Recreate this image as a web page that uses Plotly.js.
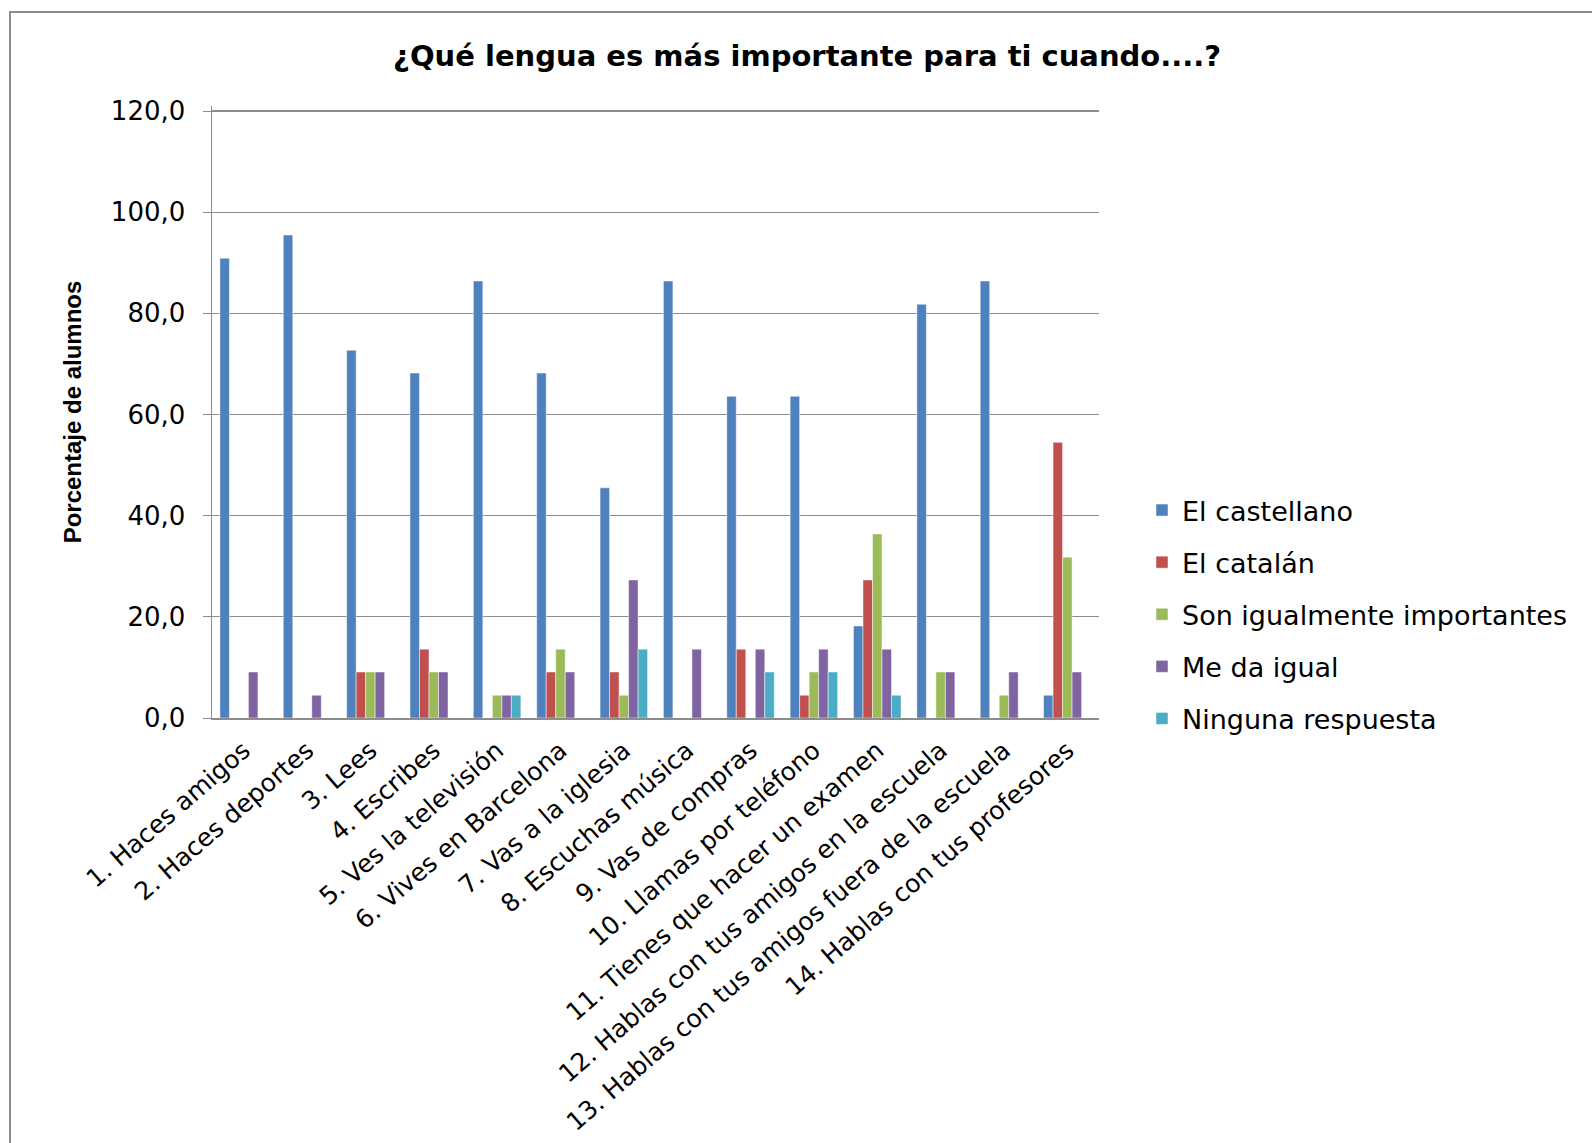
<!DOCTYPE html>
<html>
<head>
<meta charset="utf-8">
<script src="https://cdn.plot.ly/plotly-3.0.1.min.js"></script>
<style>
  html, body { margin: 0; padding: 0; background: #ffffff; }
  #chart { width: 1592px; height: 1143px; }
  #frame { position: absolute; left: 9px; top: 11px; width: 1600px; height: 1200px;
           border-left: 2px solid #8c8c8c; border-top: 2px solid #8c8c8c; pointer-events: none; }
</style>
</head>
<body>
<div id="chart"></div>
<div id="frame"></div>
<script>
const categories = [
  "1. Haces amigos",
  "2. Haces deportes",
  "3. Lees",
  "4. Escribes",
  "5. Ves la televisión",
  "6. Vives en Barcelona",
  "7. Vas a la iglesia",
  "8. Escuchas música",
  "9. Vas de compras",
  "10. Llamas por teléfono",
  "11. Tienes que hacer un examen",
  "12. Hablas con tus amigos en la escuela",
  "13. Hablas con tus amigos fuera de la escuela",
  "14. Hablas con tus profesores"
];

const castellano   = [90.9, 95.5, 72.7, 68.2, 86.4, 68.2, 45.5, 86.4, 63.6, 63.6, 18.2, 81.8, 86.4, 4.5];
const catalan      = [0,    0,    9.1,  13.6, 0,    9.1,  9.1,  0,    13.6, 4.5,  27.3, 0,    0,    54.5];
const igualImport  = [0,    0,    9.1,  9.1,  4.5,  13.6, 4.5,  0,    0,    9.1,  36.4, 9.1,  4.5,  31.8];
const meDaIgual    = [9.1,  4.5,  9.1,  9.1,  4.5,  9.1,  27.3, 13.6, 13.6, 13.6, 13.6, 9.1,  9.1,  9.1];
const ninguna      = [0,    0,    0,    0,    4.5,  0,    13.6, 0,    9.1,  9.1,  4.5,  0,    0,    0];

const seriesNames = ["El castellano", "El catalán", "Son igualmente importantes", "Me da igual", "Ninguna respuesta"];
const seriesValues = [castellano, catalan, igualImport, meDaIgual, ninguna];
const seriesColors = ["#4F81BD", "#C0504D", "#9BBB59", "#8064A2", "#4BACC6"];

const yTicks = [0, 20, 40, 60, 80, 100, 120];

const traces = seriesNames.map((name, i) => ({
  type: "bar",
  name: name,
  x: categories,
  y: seriesValues[i],
  legendgroup: "g" + i,
  marker: { color: seriesColors[i], line: { color: "rgba(255,255,255,0.6)", width: 0.8 } },
  hoverinfo: "x+y+name"
}));

const layout = {
  width: 1592,
  height: 1143,
  paper_bgcolor: "rgba(0,0,0,0)",
  plot_bgcolor: "rgba(0,0,0,0)",
  separators: ",.",
  margin: { l: 212, r: 493, t: 106, b: 425, autoexpand: false },
  barmode: "group",
  bargap: 0.25,
  bargroupgap: 0,
  title: {
    text: "<b>¿Qué lengua es más importante para ti cuando....?</b>",
    font: { family: "DejaVu Sans", size: 29, color: "#000000" },
    x: 0.507, xanchor: "center",
    y: 0.951, yanchor: "middle"
  },
  xaxis: {
    type: "category",
    tickangle: -41,
    tickfont: { family: "DejaVu Sans", size: 25, color: "#000000" },
    ticklabelstandoff: 6,
    showline: true,
    linecolor: "#8c8c8c",
    linewidth: 2,
    ticks: "",
    showgrid: false,
    automargin: false
  },
  yaxis: {
    range: [0, 121],
    tickvals: yTicks,
    tickformat: ".1f",
    tickfont: { family: "DejaVu Sans", size: 26, color: "#000000" },
    showline: true,
    linecolor: "#8c8c8c",
    linewidth: 1.5,
    ticks: "outside",
    ticklen: 8,
    tickcolor: "#8c8c8c",
    ticklabelstandoff: 12,
    showgrid: true,
    gridcolor: "#8c8c8c",
    gridwidth: 1.2,
    zeroline: false,
    automargin: false,
    title: {
      text: "<b>Porcentaje de alumnos</b>",
      font: { family: "Liberation Sans", size: 24, color: "#000000" },
      standoff: 22
    }
  },
  showlegend: true,
  legend: {
    xref: "container", yref: "container",
    x: 1142 / 1592, xanchor: "left",
    y: 1 - 486 / 1143, yanchor: "top",
    font: { family: "DejaVu Sans", size: 27, color: "#000000" },
    tracegroupgap: 14,
    itemwidth: 30,
    bgcolor: "rgba(0,0,0,0)"
  }
};

Plotly.newPlot("chart", traces, layout, { displayModeBar: false, staticPlot: true });
</script>
</body>
</html>
